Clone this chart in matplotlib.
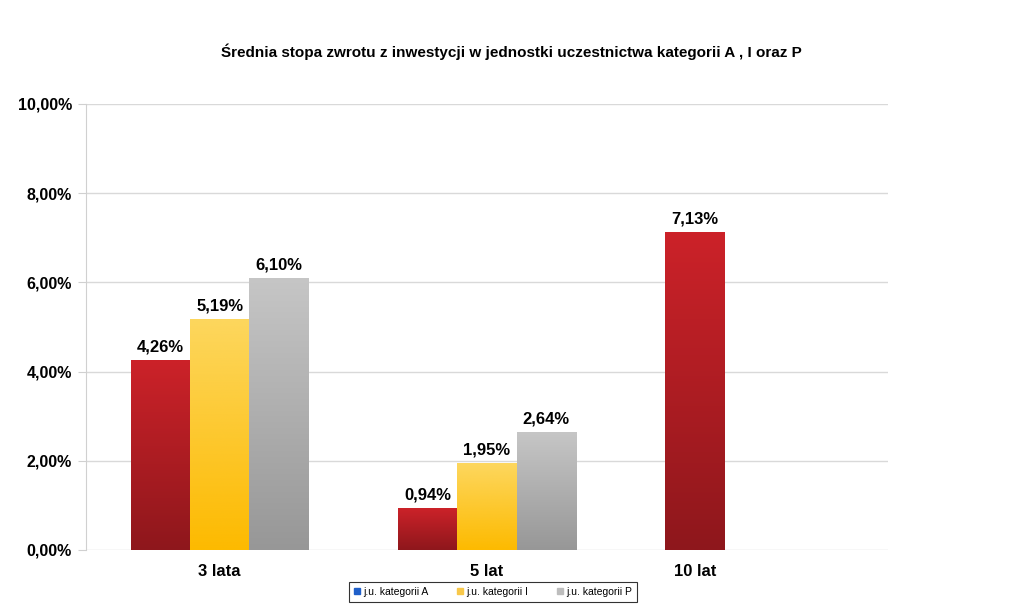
import numpy as np
import matplotlib
matplotlib.use("Agg")
import matplotlib.pyplot as plt
from matplotlib.colors import LinearSegmentedColormap
from matplotlib.patches import Patch

plt.rcParams['font.family'] = ['Liberation Sans', 'DejaVu Sans']

# dane
okresy = ['3 lata', '5 lat', '10 lat']
kat_A = [4.26, 0.94, 7.13]
kat_I = [5.19, 1.95, np.nan]
kat_P = [6.10, 2.64, np.nan]
serie = ['j.u. kategorii A', 'j.u. kategorii I', 'j.u. kategorii P']
y_ticks = [0, 2, 4, 6, 8, 10]

# kolory (gora, dol) gradientu
gradienty = [('#CC2229', '#8E171C'), ('#FDD75E', '#FDBA00'), ('#C6C6C6', '#979797')]
legend_colors = ['#1F5FC9', '#F8C84A', '#BDBDBD']

fig = plt.figure(figsize=(10.23, 6.09), dpi=100)
ax = fig.add_axes([86 / 1023, 1 - 550 / 609, 802 / 1023, 446 / 609])

x = np.arange(len(okresy))
w = 0.222
offsets = [-w, 0, w]

for vals, off, (top, bot) in zip([kat_A, kat_I, kat_P], offsets, gradienty):
    cmap = LinearSegmentedColormap.from_list('g', [bot, top])
    bars = ax.bar(x + off, np.nan_to_num(vals), w, color='none', edgecolor='none', zorder=3)
    for b, v in zip(bars, vals):
        if np.isnan(v):
            continue
        x0 = b.get_x()
        im = ax.imshow(np.linspace(0, 1, 256).reshape(-1, 1), cmap=cmap, origin='lower',
                       extent=[x0, x0 + b.get_width(), 0, v], aspect='auto', zorder=3)
        im.set_clip_path(b)
        ax.text(x0 + b.get_width() / 2, v + 0.12, f'{v:.2f}%'.replace('.', ','),
                ha='center', va='bottom', fontsize=12, fontweight='bold', zorder=4)

# etykiety osi X - srodek istniejacych slupkow
tick_pos = []
for i in range(len(okresy)):
    present = [offsets[k] for k, s in enumerate([kat_A, kat_I, kat_P]) if not np.isnan(s[i])]
    tick_pos.append(i + np.mean(present))
ax.set_xticks(tick_pos)
ax.set_xticklabels(okresy, fontsize=12, fontweight='bold')
ax.tick_params(axis='x', length=0, pad=10)

ax.set_xlim(-0.5, 2.5)
ax.set_ylim(0, 10)
ax.set_yticks(y_ticks)
ax.set_yticklabels([f'{t:.2f}%'.replace('.', ',') for t in y_ticks], fontsize=11.5, fontweight='bold')
ax.tick_params(axis='y', length=6, color='#D0D0D0', pad=4)
ax.grid(axis='y', color='#D9D9D9', linewidth=1, zorder=0)
ax.set_axisbelow(True)
for s in ['top', 'right', 'bottom']:
    ax.spines[s].set_visible(False)
ax.spines['left'].set_color('#D0D0D0')

fig.suptitle('Średnia stopa zwrotu z inwestycji w jednostki uczestnictwa kategorii A , I oraz P',
             x=0.5, y=1 - 52 / 609, va='center', fontsize=11, fontweight='bold')

handles = [Patch(color=c, label=l) for c, l in zip(legend_colors, serie)]
leg = fig.legend(handles=handles, loc='center', bbox_to_anchor=(493 / 1023, 1 - 592 / 609),
                 ncol=3, fontsize=7.5, frameon=True, fancybox=False, handlelength=0.55,
                 handleheight=0.55, handletextpad=0.3, columnspacing=2.8,
                 borderpad=0.45, borderaxespad=0)
leg.get_frame().set_edgecolor('black')
leg.get_frame().set_linewidth(0.8)

fig.savefig('out.png', dpi=100)
